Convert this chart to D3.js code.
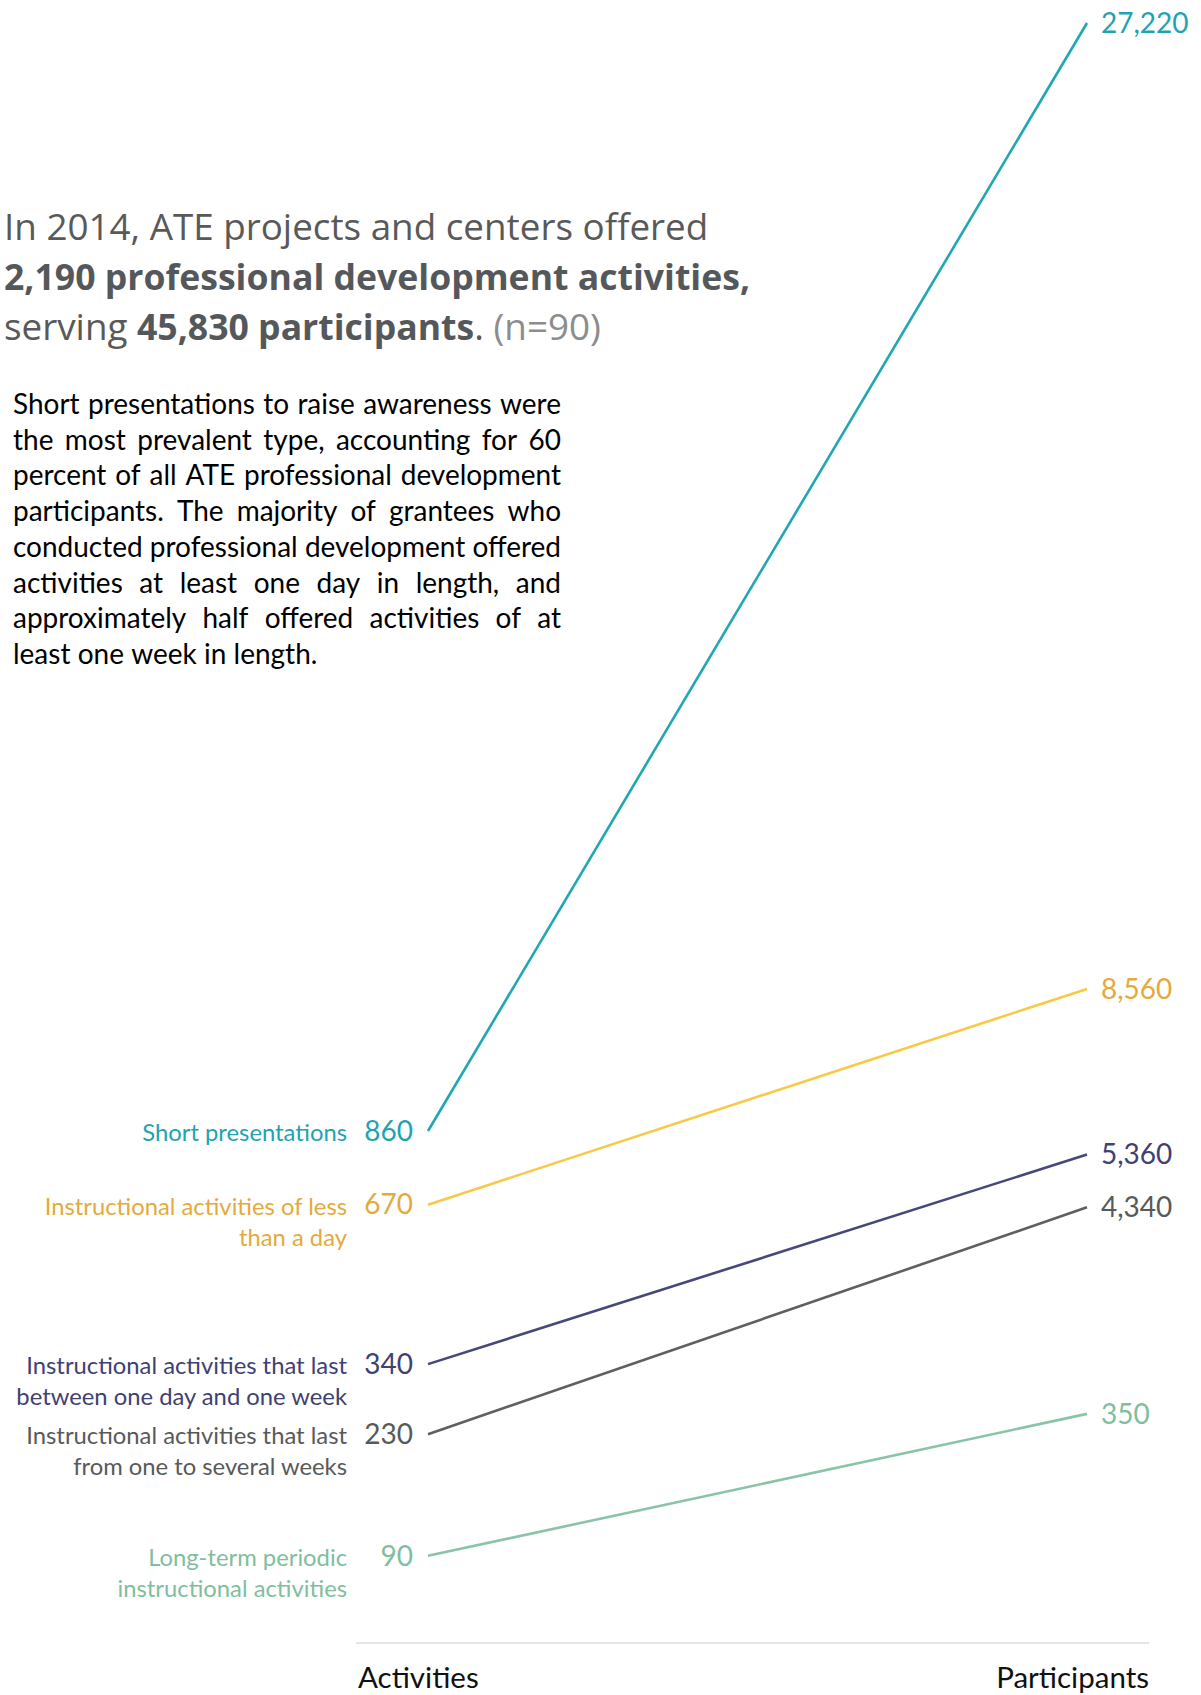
<!DOCTYPE html>
<html>
<head>
<meta charset="utf-8">
<script src="https://cdn.jsdelivr.net/npm/d3@7"></script>
<style>
  html, body { margin: 0; padding: 0; background: #fff; }
  svg { display: block; }
</style>
</head>
<body>
<svg id="chart" width="1201" height="1695"></svg>
<script>
// ---- data ----
const measures = ["Activities", "Participants"];
const categories = [
  "Short presentations",
  "Instructional activities of less than a day",
  "Instructional activities that last between one day and one week",
  "Instructional activities that last from one to several weeks",
  "Long-term periodic instructional activities"
];
const categoryLines = [
  ["Short presentations"],
  ["Instructional activities of less", "than a day"],
  ["Instructional activities that last", "between one day and one week"],
  ["Instructional activities that last", "from one to several weeks"],
  ["Long-term periodic", "instructional activities"]
];
const activities = [860, 670, 340, 230, 90];
const participants = [27220, 8560, 5360, 4340, 350];

const titleLines = [
  [{ t: "In 2014, ATE projects and centers offered", w: 400 }],
  [{ t: "2,190 professional development activities,", w: 700 }],
  [{ t: "serving ", w: 400 }, { t: "45,830 participants", w: 700 }, { t: ". ", w: 400 }, { t: "(n=90)", w: 400, muted: true }]
];
const paragraphLines = [
  "Short presentations to raise awareness were",
  "the most prevalent type, accounting for 60",
  "percent of all ATE professional development",
  "participants. The majority of grantees who",
  "conducted professional development offered",
  "activities at least one day in length, and",
  "approximately half offered activities of at",
  "least one week in length."
];

// ---- styles ----
const lineColors = ["#21a7b4", "#f8c946", "#46487a", "#5f5f5f", "#89c4a8"];
const textColors = ["#1fa3b1", "#e4aa3c", "#3f4172", "#595959", "#7fbe9e"];
const labelFont = "Lato, 'Noto Sans', sans-serif";
const titleFont = "'Open Sans', 'Noto Sans', sans-serif";

const svg = d3.select("#chart");

// ---- title ----
const title = svg.append("g");
titleLines.forEach((parts, i) => {
  const t = title.append("text")
    .attr("x", 4)
    .attr("y", 240 + i * 50)
    .attr("font-family", titleFont)
    .attr("fill", "#595959");
  parts.forEach(p => {
    t.append("tspan")
      .attr("font-weight", p.w)
      .attr("font-size", p.w === 700 ? 35.6 : 36.8)
      .attr("fill", p.muted ? "#8c8c8c" : (p.w === 700 ? "#55585b" : "#595959"))
      .text(p.t);
  });
});

// ---- justified paragraph ----
const paraLeft = 13, paraRight = 561, paraTop = 414, paraLead = 35.7;
const para = svg.append("g")
  .attr("font-family", labelFont)
  .attr("fill", "#000");
// size the body text so the widest justified line sets naturally into the column
const probe = para.append("text").attr("font-size", 20);
const widest = d3.max(paragraphLines.slice(0, -1), l => probe.text(l).node().getComputedTextLength());
probe.remove();
const paraSize = 20 * (paraRight - paraLeft) / widest;
para.attr("font-size", paraSize);
paragraphLines.forEach((line, i) => {
  const words = line.split(" ");
  const y = paraTop + i * paraLead;
  const nodes = words.map(w => para.append("text").attr("y", y).text(w));
  const widths = nodes.map(n => n.node().getComputedTextLength());
  const total = d3.sum(widths);
  const last = i === paragraphLines.length - 1;
  const gap = last ? paraSize * 0.26 : (paraRight - paraLeft - total) / (words.length - 1);
  let x = paraLeft;
  nodes.forEach((n, k) => { n.attr("x", x); x += widths[k] + gap; });
});

// ---- scales ----
const x = d3.scalePoint().domain(measures).range([428, 1087]);
const yAct = d3.scaleSqrt().domain([0, d3.max(activities)]).range([1759, 1131]);
const yPart = d3.scaleLinear().domain([0, d3.max(participants)]).range([1432, 23]);
const fmt = d3.format(",");

const rows = categories.map((c, i) => ({
  name: c, lines: categoryLines[i], a: activities[i], p: participants[i], i
}));

// ---- slope lines ----
svg.append("g").selectAll("line")
  .data(rows)
  .join("line")
  .attr("x1", x("Activities"))
  .attr("y1", d => yAct(d.a))
  .attr("x2", x("Participants"))
  .attr("y2", d => yPart(d.p))
  .attr("stroke", d => lineColors[d.i])
  .attr("stroke-width", 2.6)
  .attr("stroke-linecap", "butt");

// left values
svg.append("g").selectAll("text")
  .data(rows)
  .join("text")
  .attr("x", x("Activities") - 15)
  .attr("y", d => yAct(d.a))
  .attr("dy", "0.35em")
  .attr("text-anchor", "end")
  .attr("font-family", labelFont)
  .attr("font-size", 28)
  .attr("fill", d => textColors[d.i])
  .text(d => fmt(d.a));

// category labels
const labels = svg.append("g").selectAll("text")
  .data(rows)
  .join("text")
  .attr("text-anchor", "end")
  .attr("font-family", labelFont)
  .attr("font-size", 23.8)
  .attr("fill", d => textColors[d.i])
  .attr("y", d => yAct(d.a))
  .attr("dy", "0.35em");
labels.each(function(d) {
  d3.select(this).selectAll("tspan")
    .data(d.lines)
    .join("tspan")
    .attr("x", x("Activities") - 81)
    .attr("dy", (l, k) => k === 0 ? "0.42em" : 31)
    .text(l => l);
});

// right values
svg.append("g").selectAll("text")
  .data(rows)
  .join("text")
  .attr("x", x("Participants") + 14)
  .attr("y", d => yPart(d.p))
  .attr("dy", "0.35em")
  .attr("font-family", labelFont)
  .attr("font-size", 28)
  .attr("fill", d => textColors[d.i])
  .text(d => fmt(d.p));

// ---- base axis ----
const axisY = 1643;
svg.append("line")
  .attr("x1", 356).attr("x2", 1149)
  .attr("y1", axisY).attr("y2", axisY)
  .attr("stroke", "#dcdcdc")
  .attr("stroke-width", 1.5);
svg.append("g").selectAll("text")
  .data(measures)
  .join("text")
  .attr("x", (d, i) => i === 0 ? 358 : 1149)
  .attr("y", 1688)
  .attr("text-anchor", (d, i) => i === 0 ? "start" : "end")
  .attr("font-family", labelFont)
  .attr("font-size", 29.5)
  .attr("fill", "#111")
  .text(d => d);
</script>
</body>
</html>
